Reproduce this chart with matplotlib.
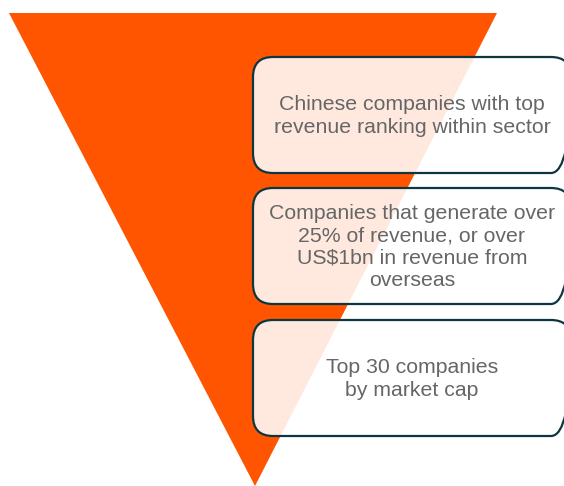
import matplotlib.pyplot as plt
from matplotlib.patches import Polygon, FancyBboxPatch

# funnel stages, top to bottom
stages = [
    "Chinese companies with top\nrevenue ranking within sector",
    "Companies that generate over\n25% of revenue, or over\nUS$1bn in revenue from\noverseas",
    "Top 30 companies\nby market cap",
]

W, H = 564, 486
fig = plt.figure(figsize=(W / 100, H / 100), dpi=100)
ax = fig.add_axes([0, 0, 1, 1])
ax.set_xlim(0, W)
ax.set_ylim(H, 0)
ax.axis('off')

# orange inverted triangle
tri = Polygon([(9, 13), (497, 13), (255, 486)], closed=True,
              facecolor='#FF5500', edgecolor='none', zorder=1)
ax.add_patch(tri)

# rounded boxes on the right
box_x0, box_x1 = 253, 571
box_tops = [57, 188, 320]
box_h = 116
pad = 20
for label, top in zip(stages, box_tops):
    xy = (box_x0 + pad, top + pad)
    w, h = box_x1 - box_x0 - 2 * pad, box_h - 2 * pad
    ax.add_patch(FancyBboxPatch(xy, w, h, boxstyle=f"round,pad={pad}",
                                facecolor='white', alpha=0.88, edgecolor='none', zorder=2))
    ax.add_patch(FancyBboxPatch(xy, w, h, boxstyle=f"round,pad={pad}",
                                facecolor='none', edgecolor='#0E3641', linewidth=1.6, zorder=3))
    ax.text((box_x0 + box_x1) / 2, top + box_h / 2 + 1, label, ha='center', va='center',
            fontsize=15.3, color='#666666', family='Liberation Sans',
            linespacing=1.22, zorder=4)

fig.savefig('out.png', dpi=100)
